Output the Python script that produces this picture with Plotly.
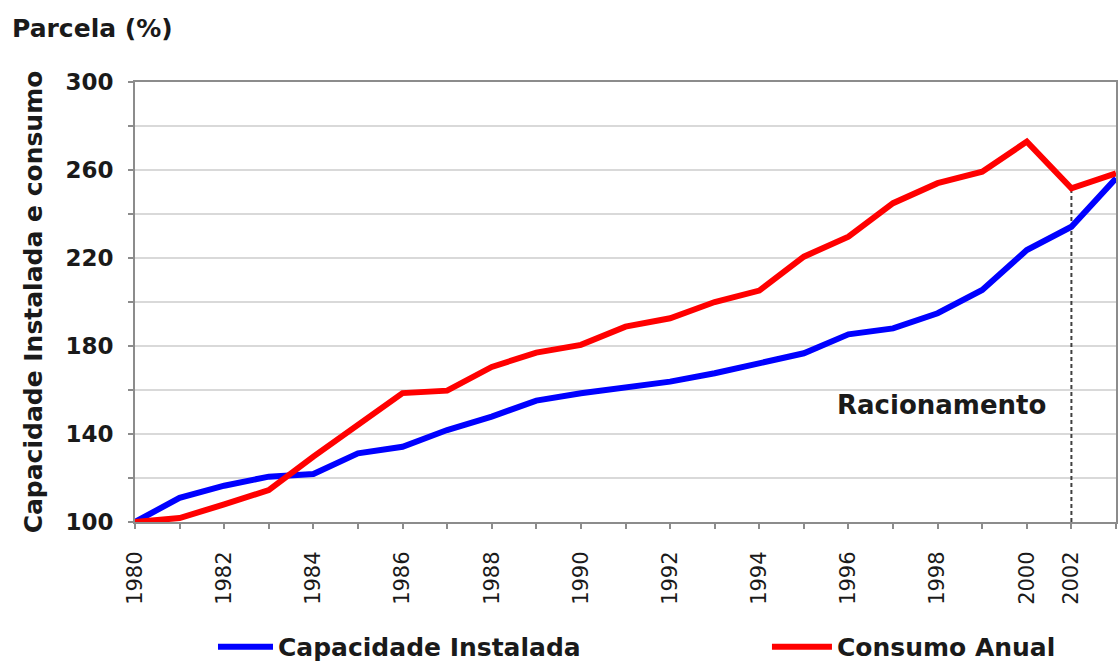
import plotly.graph_objects as go

years = list(range(1980, 2003))
capacidade = [100, 111, 116.5, 120.6, 121.8, 131.2, 134.2, 141.8, 147.9, 155.2, 158.5,
              161.4, 163.8, 167.6, 172.1, 176.7, 185.3, 188.0, 194.9, 205.5, 223.6,
              234.2, 256.2]
consumo = [100, 101.8, 108, 114.5, 129.7, 144, 158.6, 159.7, 170.5, 177, 180.5,
           188.8, 192.6, 200, 205.2, 220.6, 229.7, 244.9, 254, 259.2, 272.9,
           251.7, 258.5]

x_tick_vals = [1980, 1982, 1984, 1986, 1988, 1990, 1992, 1994, 1996, 1998, 2000, 2001]
x_tick_text = ["1980", "1982", "1984", "1986", "1988", "1990", "1992", "1994",
               "1996", "1998", "2000", "2002"]

racionamento_year = 2001
label_pos = (1998.09, 153.2)

FONT = "DejaVu Sans"
TXT = "#1a1a1a"
AX = "#8c8c8c"

fig = go.Figure()

ri = years.index(racionamento_year)
fig.add_trace(go.Scatter(
    x=[years[ri], years[ri]], y=[100, consumo[ri]], mode="lines",
    line=dict(color="#404040", width=2, dash="4px,3px"),
    showlegend=False, hoverinfo="skip"))

fig.add_trace(go.Scatter(x=years, y=capacidade, mode="lines",
                         name="Capacidade Instalada", legend="legend",
                         line=dict(color="#0000ff", width=6)))
fig.add_trace(go.Scatter(x=years, y=consumo, mode="lines",
                         name="Consumo Anual", legend="legend2",
                         line=dict(color="#ff0000", width=6)))

fig.add_annotation(x=label_pos[0], y=label_pos[1], text="<b>Racionamento</b>",
                   showarrow=False, xanchor="center", yanchor="middle",
                   font=dict(family=FONT, size=26, color=TXT))

fig.add_annotation(x=-0.1274, xref="paper", y=1.1227, yref="paper",
                   text="<b>Parcela (%)</b>",
                   showarrow=False, xanchor="left", yanchor="middle",
                   font=dict(family=FONT, size=25, color=TXT))

legend_font = dict(family=FONT, size=25, color=TXT, weight="bold")
fig.update_layout(
    width=1118, height=666,
    margin=dict(l=135, r=2, t=82, b=144, autoexpand=False),
    paper_bgcolor="white", plot_bgcolor="white",
    font=dict(family=FONT, color=TXT),
    legend=dict(orientation="h", x=0.0795, xanchor="left", y=-0.284, yanchor="middle",
                itemwidth=55, font=legend_font, bgcolor="rgba(0,0,0,0)"),
    legend2=dict(orientation="h", x=0.6442, xanchor="left", y=-0.284, yanchor="middle",
                 itemwidth=60, font=legend_font, bgcolor="rgba(0,0,0,0)"),
    showlegend=True,
)

fig.update_xaxes(
    range=[1980, 2002], tickmode="array", tickvals=x_tick_vals, ticktext=x_tick_text,
    tickangle=-90, tickfont=dict(family=FONT, size=21, color=TXT),
    ticks="outside", ticklen=19, tickcolor="rgba(0,0,0,0)", tickwidth=2,
    minor=dict(dtick=1, tick0=1980, ticks="outside", ticklen=5, tickcolor=AX,
               tickwidth=2, showgrid=False),
    showgrid=False, showline=True, linecolor=AX, linewidth=2, mirror=True,
    zeroline=False, automargin=False,
)
fig.update_yaxes(
    range=[100, 300], tick0=100, dtick=40,
    tickfont=dict(family=FONT, size=23, color=TXT, weight="bold"),
    ticks="outside", ticklen=5, tickcolor=AX, tickwidth=2,
    minor=dict(dtick=20, tick0=100, ticks="outside", ticklen=5, tickcolor=AX,
               tickwidth=2, showgrid=True, gridcolor="#d9d9d9", gridwidth=2),
    showgrid=True, gridcolor="#d9d9d9", gridwidth=2,
    showline=True, linecolor=AX, linewidth=2, mirror=True, zeroline=False,
    ticklabelstandoff=10, automargin=False,
    title=dict(text="<b>Capacidade Instalada e consumo</b>", standoff=16,
               font=dict(family=FONT, size=25, color=TXT)),
)

fig.write_html("out.html", config={"displayModeBar": False},
               post_script="document.body.style.margin='0px';")
